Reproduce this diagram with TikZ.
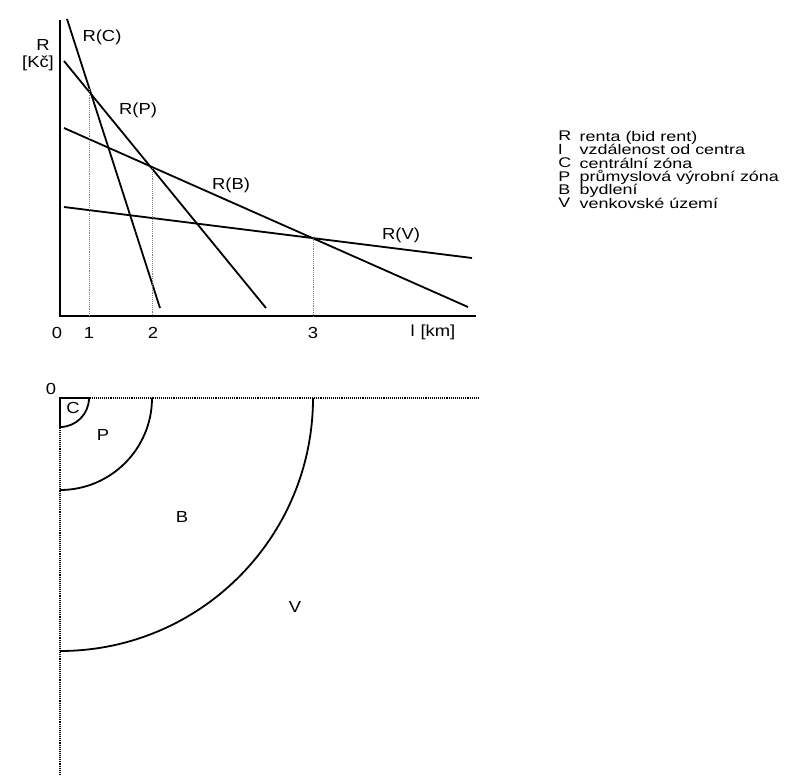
\documentclass[tikz,border=0pt]{standalone}
\usepackage{fontspec}
\setmainfont{Liberation Sans}
\usetikzlibrary{positioning}
\newcommand{\legendlines}{\fontsize{14}{13.4}\selectfont\lineskiplimit -20pt\relax}

\begin{document}
\begin{tikzpicture}[
  x=1pt, y=-1pt,
  axis/.style={line width=1.4pt},
  rent/.style={line width=1.8pt},
  guide/.style={densely dotted, gray, line width=0.9pt},
  border/.style={densely dotted, line width=1.1pt},
  zone/.style={line width=1.8pt},
  lbl/.style={font=\fontsize{16}{14}\selectfont, inner sep=0pt, xscale=1.15, transform shape},
  legendtext/.style={inner sep=0pt, align=left, font=\legendlines, xscale=1.28, transform shape},
]
  \useasboundingbox (0,0) rectangle (786,778);

  % upper graph: bid rent curves
  \coordinate (o) at (60,316);
  \coordinate (ytop) at (60,20);
  \coordinate (xend) at (476,316);
  \draw[axis] (ytop) -- (o) -- (xend);

  \coordinate (c0) at (67,19);   \coordinate (c1) at (160,308);
  \coordinate (p0) at (64,61);   \coordinate (p1) at (266,308);
  \coordinate (b0) at (64,128);  \coordinate (b1) at (468,307);
  \coordinate (v0) at (64,207);  \coordinate (v1) at (472,258);
  \draw[rent] (c0) -- (c1);
  \draw[rent] (p0) -- (p1);
  \draw[rent] (b0) -- (b1);
  \draw[rent] (v0) -- (v1);

  \coordinate (i1) at (89,89);   \coordinate (x1) at (89,316);
  \coordinate (i2) at (152,168); \coordinate (x2) at (152,316);
  \coordinate (i3) at (313,238); \coordinate (x3) at (313,316);
  \draw[guide] (i1) -- (x1);
  \draw[guide] (i2) -- (x2);
  \draw[guide] (i3) -- (x3);

  \node[lbl] (rc) at (102,37)  {R(C)};
  \node[lbl] (rp) at (138,110) {R(P)};
  \node[lbl] (rb) at (231,185) {R(B)};
  \node[lbl] (rv) at (401,235) {R(V)};
  \node[lbl] (ry) at (43,45)   {R};
  \node[lbl] (ru) at (38,63)   {[Kč]};

  \node[lbl] (t0) at (57,333)  {0};
  \node[lbl] (t1) at (89,333)  {1};
  \node[lbl] (t2) at (153,333) {2};
  \node[lbl] (t3) at (313,333) {3};
  \node[lbl] (tl) at (433,332) {l\hspace{5pt}[km]};

  % legend
  \node[legendtext, anchor=north west] (keys) at (558,131) {R\\l\\C\\P\\B\\V};
  \node[legendtext, right=8pt of keys.north east, anchor=north west] (legend)
    {renta (bid rent)\\vzdálenost od centra\\centrální zóna\\průmyslová výrobní zóna\\bydlení\\venkovské území};

  % lower graph: zones round the centre
  \coordinate (z0) at (60,398);
  \coordinate (zr) at (478,398);
  \coordinate (zd) at (60,775);
  \draw[border] (z0) -- (zr);
  \draw[border] (z0) -- (zd);
  \node[lbl] (zero) at (51,389) {0};

  \draw[zone] (60,427) -- (z0) -- (89,398) arc[start angle=0, end angle=90, radius=29];
  \draw[zone] (152,398) arc[start angle=0, end angle=90, radius=92];
  \draw[zone] (313,398) arc[start angle=0, end angle=90, radius=253];

  \node[lbl] (zc) at (73,408)  {C};
  \node[lbl] (zp) at (103,435) {P};
  \node[lbl] (zb) at (182,517) {B};
  \node[lbl] (zv) at (295,607) {V};
\end{tikzpicture}
\end{document}
